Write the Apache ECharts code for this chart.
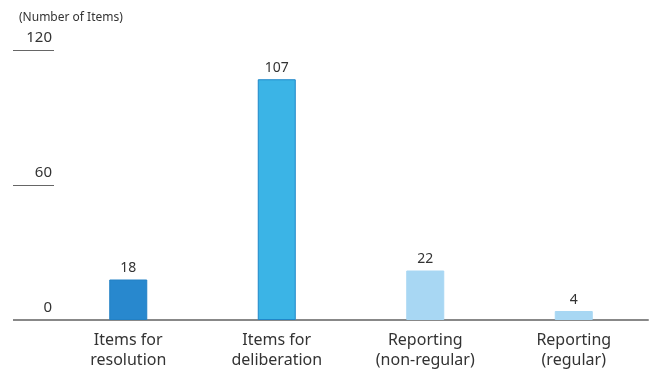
<!DOCTYPE html>
<html><head><meta charset="utf-8">
<script src="https://cdn.jsdelivr.net/npm/echarts@6/dist/echarts.min.js"></script>
<style>html,body{margin:0;padding:0;background:#fff}#c{width:662px;height:370px}</style>
</head><body><div id="c"></div>
<script>
const categories = ['Items for\nresolution', 'Items for\ndeliberation', 'Reporting\n(non-regular)', 'Reporting\n(regular)'];
const values = [18, 107, 22, 4];
const yTicks = [0, 60, 120];
const unitLabel = '(Number of Items)';

const fills = ['#2888CE', '#3BB4E6', '#A8D7F3', '#A8D7F3'];
const borders = ['#2280C4', '#1F86C8', '#A8D7F3', '#A8D7F3'];
const font = 'Noto Sans, sans-serif';
const chart = echarts.init(document.getElementById('c'));
chart.setOption({
  animation: false,
  title: { text: unitLabel, left: 14, top: 7, textStyle: { fontSize: 12, fontWeight: 'normal', color: '#333', fontFamily: font } },
  grid: { left: 54, right: 14, top: 50, bottom: 50, containLabel: false },
  xAxis: {
    type: 'category', data: categories,
    axisLine: { lineStyle: { color: '#888', width: 2 } },
    axisTick: { show: false },
    axisLabel: { fontSize: 16, color: '#333', fontFamily: font, lineHeight: 20, margin: 10, interval: 0 }
  },
  yAxis: {
    type: 'value', min: yTicks[0], max: yTicks[yTicks.length - 1], interval: 60,
    splitLine: { show: false },
    axisLine: { show: false },
    axisTick: { show: true, length: 41, lineStyle: { color: '#666', width: 1 } },
    axisLabel: { fontSize: 15, color: '#333', fontFamily: font, margin: 2, verticalAlign: 'bottom', padding: [0, 0, 5, 0] }
  },
  series: [{
    type: 'bar', barWidth: 38,
    data: values.map((v, i) => ({ value: v, itemStyle: { color: fills[i], borderColor: borders[i], borderWidth: 1 } })),
    label: { show: true, position: 'top', distance: 4, fontSize: 14, color: '#333', fontFamily: font }
  }]
});
// extend baseline to the left under the zero tick
const p0 = chart.convertToPixel({ gridIndex: 0 }, [0, 0]);
const gridLeft = 54;
chart.setOption({
  graphic: [{ type: 'line', shape: { x1: gridLeft - 41, y1: p0[1], x2: gridLeft, y2: p0[1] }, style: { stroke: '#888', lineWidth: 2 }, z: 10 }]
});
</script></body></html>
